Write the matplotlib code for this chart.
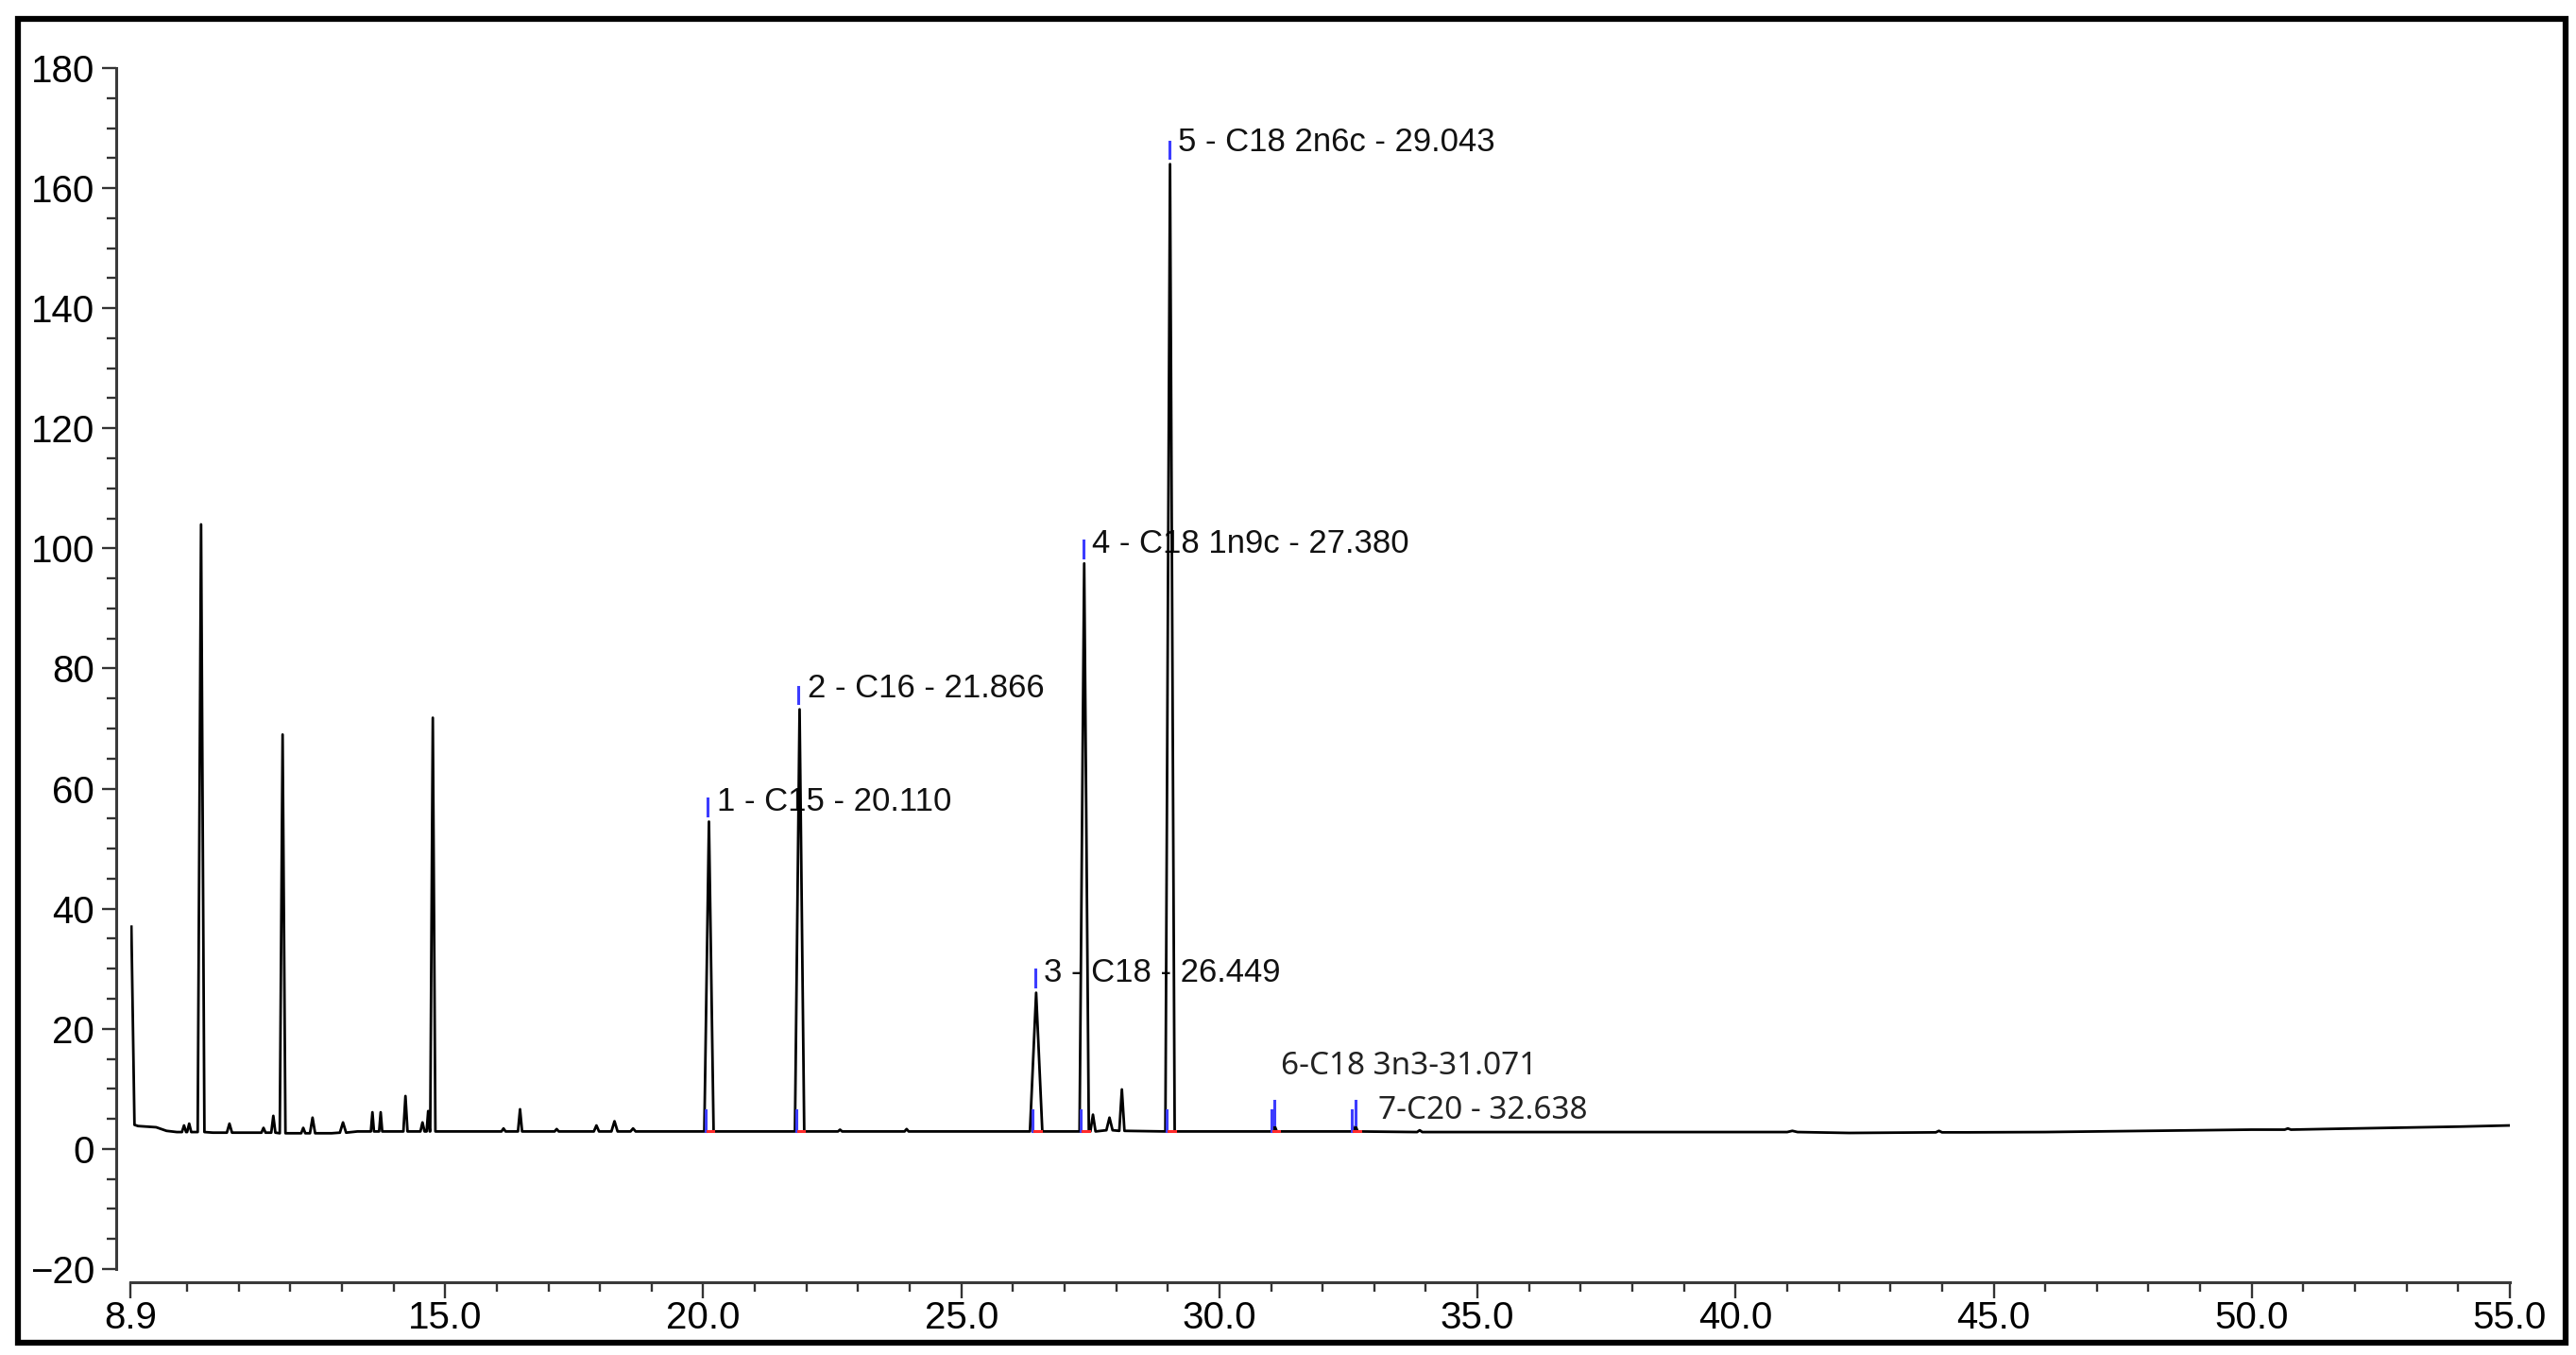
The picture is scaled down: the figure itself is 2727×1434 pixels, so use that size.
import numpy as np
import matplotlib.pyplot as plt
from matplotlib.patches import Rectangle
from matplotlib.ticker import MultipleLocator, FixedLocator

# -------------------------
# dados lidos do cromatograma
# -------------------------

# linha de base (tempo de retencao em min, sinal)
base_t = [8.92, 8.98, 9.05, 9.40, 9.60, 9.80, 10.50, 12.00, 12.80, 13.30,
          19.0, 25.0, 30.0, 35.0, 40.5, 42.2, 43.0, 44.5, 46.0, 48.0,
          50.0, 52.0, 54.0, 55.0]
base_y = [37.0, 4.0, 3.8, 3.6, 3.0, 2.8, 2.7, 2.6, 2.6, 2.9,
          2.9, 2.9, 2.9, 2.8, 2.8, 2.65, 2.7, 2.75, 2.8, 3.0,
          3.2, 3.4, 3.7, 3.9]

# picos: tempo do apice, altura, meia largura na base, nivel da base
peak_t = [9.94, 10.04, 10.27, 10.82, 11.48, 11.67, 11.85, 12.25, 12.43, 13.02,
          13.59, 13.75, 14.23, 14.56, 14.67, 14.76, 16.13, 16.45, 17.16, 17.93,
          18.28, 18.64, 20.110, 21.866, 22.65, 23.94, 26.449, 27.380, 27.55, 27.87,
          28.11, 29.043, 31.071, 32.638, 33.88, 41.1, 43.94, 50.7]
peak_h = [3.9, 4.2, 104.0, 4.2, 3.5, 5.5, 69.0, 3.5, 5.2, 4.4,
          6.1, 6.1, 8.8, 4.4, 6.3, 71.8, 3.4, 6.6, 3.3, 3.9,
          4.6, 3.4, 54.5, 73.2, 3.2, 3.3, 26.0, 97.5, 5.7, 5.2,
          9.9, 164.0, 3.8, 3.8, 3.1, 3.0, 3.0, 3.4]
peak_w = [0.04, 0.04, 0.065, 0.05, 0.04, 0.04, 0.055, 0.04, 0.05, 0.06,
          0.03, 0.03, 0.04, 0.04, 0.03, 0.05, 0.04, 0.04, 0.04, 0.05,
          0.06, 0.05, 0.09, 0.09, 0.04, 0.04, 0.12, 0.09, 0.05, 0.06,
          0.05, 0.09, 0.04, 0.04, 0.05, 0.10, 0.06, 0.06]
peak_b = [2.8, 2.8, 2.8, 2.7, 2.7, 2.7, 2.6, 2.6, 2.6, 2.7,
          2.9, 2.9, 2.9, 2.9, 2.9, 2.9, 2.9, 2.9, 2.9, 2.9,
          2.9, 2.9, 2.9, 2.9, 2.9, 2.9, 2.9, 2.9, 2.9, 3.1,
          3.0, 2.9, 2.9, 2.9, 2.8, 2.8, 2.75, 3.2]

# picos identificados
nome_pico = ["1 - C15 - 20.110", "2 - C16 - 21.866", "3 - C18 - 26.449",
             "4 - C18 1n9c - 27.380", "5 - C18 2n6c - 29.043",
             "6-C18 3n3-31.071", "7-C20 - 32.638"]
nome_t = [20.110, 21.866, 26.449, 27.380, 29.043, 31.071, 32.638]
nome_h = [54.5, 73.2, 26.0, 97.5, 164.0, 3.8, 3.8]
texto_x = [20.26, 22.02, 26.60, 27.53, 29.19, 31.20, 33.08]
texto_y = [57.8, 76.7, 29.3, 100.8, 167.7, 13.7, 6.3]

x_ticks = [8.9, 15.0, 20.0, 25.0, 30.0, 35.0, 40.0, 45.0, 50.0, 55.0]

# monta o tracado (base + triangulos dos picos)
pts = list(zip(base_t, base_y))
for t, h, w, b in zip(peak_t, peak_h, peak_w, peak_b):
    pts += [(t - w, b), (t, h), (t + w, b)]
pts.sort(key=lambda p: p[0])
tempo = np.array([p[0] for p in pts])
sinal = np.array([p[1] for p in pts])

plt.rcParams['font.family'] = ['Liberation Sans', 'DejaVu Sans']

fig = plt.figure(figsize=(27.27, 14.34), dpi=100)
ax = fig.add_axes([0.0506, 0.0635, 0.9237, 0.8863])

ax.plot(tempo, sinal, color='black', lw=2.0, zorder=3)

# marcadores de integracao
for i, (t, h) in enumerate(zip(nome_t, nome_h)):
    b = 2.9
    if i < 5:
        ax.plot([t - 0.02, t - 0.02], [h + 1.0, h + 3.8], color='#3c3cff', lw=2.2, zorder=4)
    else:
        ax.plot([t, t], [h + 0.3, h + 4.2], color='#3c3cff', lw=2.2, zorder=4)
    ax.plot([t - 0.07, t - 0.07], [b, b + 3.6], color='#3c3cff', lw=2.2, zorder=4)
    ax.plot([t - 0.03, t + 0.09], [b, b], color='#ff2a2a', lw=2.2, zorder=4)

for i, txt in enumerate(nome_pico):
    if i < 5:
        ax.text(texto_x[i], texto_y[i], txt, fontsize=25, va='center', ha='left',
                color='#111111', zorder=2)
    else:
        ax.text(texto_x[i], texto_y[i], txt, fontsize=24, va='center', ha='left',
                color='#222222', zorder=2, family=['Noto Sans', 'DejaVu Sans'])

ax.set_xlim(8.9, 55.0)
ax.set_ylim(-20, 180)

for s in ['top', 'right']:
    ax.spines[s].set_visible(False)
ax.spines['left'].set_position(('outward', 10.8))
ax.spines['bottom'].set_position(('outward', 10))
for s in ['left', 'bottom']:
    ax.spines[s].set_linewidth(2.2)
    ax.spines[s].set_color('#3a3a3a')

ax.xaxis.set_major_locator(FixedLocator(x_ticks))
ax.set_xticklabels([f"{v:.1f}" for v in x_ticks])
ax.xaxis.set_minor_locator(FixedLocator(list(range(10, 55))))
ax.yaxis.set_major_locator(MultipleLocator(20))
ax.yaxis.set_minor_locator(MultipleLocator(5))

ax.tick_params(axis='x', which='major', length=12, width=1.7, pad=2, labelsize=29, color='#333333')
ax.tick_params(axis='x', which='minor', length=7, width=1.7, color='#333333')
ax.tick_params(axis='y', which='major', length=10.5, width=1.7, pad=6, labelsize=29, color='#333333')
ax.tick_params(axis='y', which='minor', length=7, width=1.7, color='#333333')

# moldura externa
fig.patches.append(Rectangle((19 / 2727, 1 - 1421 / 1434), 2697 / 2727, 1401 / 1434,
                             transform=fig.transFigure, fill=False, lw=4.5,
                             edgecolor='black', zorder=10))

fig.savefig('out.png', dpi=100)
